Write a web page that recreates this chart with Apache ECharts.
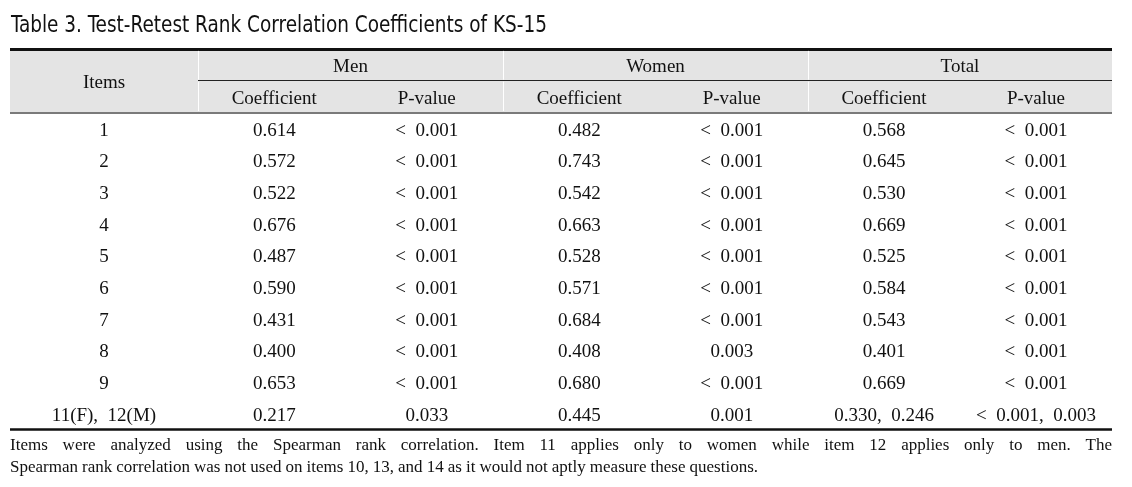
<!DOCTYPE html>
<html>
<head>
<meta charset="utf-8">
<script src="https://cdn.jsdelivr.net/npm/echarts@6/dist/echarts.min.js"></script>
<style>
html,body{margin:0;padding:0;background:#fff;}
#chart{width:1132px;height:487px;}
</style>
</head>
<body>
<div id="chart"></div>
<script>
// ---------- data ----------
const titleText = 'Table 3. Test-Retest Rank Correlation Coefficients of KS-15';
const groupHeaders = ['Men', 'Women', 'Total'];
const subHeaders = ['Coefficient', 'P-value', 'Coefficient', 'P-value', 'Coefficient', 'P-value'];
const itemHeader = 'Items';
const items = ['1', '2', '3', '4', '5', '6', '7', '8', '9', '11(F), 12(M)'];
const menCoef = [0.614, 0.572, 0.522, 0.676, 0.487, 0.590, 0.431, 0.400, 0.653, 0.217];
const menP = ['< 0.001', '< 0.001', '< 0.001', '< 0.001', '< 0.001', '< 0.001', '< 0.001', '< 0.001', '< 0.001', '0.033'];
const womenCoef = [0.482, 0.743, 0.542, 0.663, 0.528, 0.571, 0.684, 0.408, 0.680, 0.445];
const womenP = ['< 0.001', '< 0.001', '< 0.001', '< 0.001', '< 0.001', '< 0.001', '< 0.001', '0.003', '< 0.001', '0.001'];
const totalCoef = [0.568, 0.645, 0.530, 0.669, 0.525, 0.584, 0.543, 0.401, 0.669, [0.330, 0.246]];
const totalP = ['< 0.001', '< 0.001', '< 0.001', '< 0.001', '< 0.001', '< 0.001', '< 0.001', '< 0.001', '< 0.001', '< 0.001, 0.003'];
const footnoteLines = [
  'Items were analyzed using the Spearman rank correlation. Item 11 applies only to women while item 12 applies only to men. The',
  'Spearman rank correlation was not used on items 10, 13, and 14 as it would not aptly measure these questions.'
];

// ---------- layout ----------
const colWidths = [188, 152.5, 152.5, 152.5, 152.5, 152, 152];
const W = colWidths.reduce((a, b) => a + b, 0);
const colStart = [];
colWidths.reduce((acc, w, i) => { colStart[i] = acc; return acc + w; }, 0);
const colCenter = colWidths.map((w, i) => colStart[i] + w / 2);
const headerRows = 2;
const totalRows = headerRows + items.length;
const SERIF = '"Liberation Serif", "DejaVu Serif", serif';
const TXT = '#111111';
const footLineEnds = [1112, 758];

const fmtCoef = v => Array.isArray(v) ? v.map(x => x.toFixed(3)).join(',  ') : v.toFixed(3);
const fmtP = v => v.replace(/< /g, '<  ').replace(/, /g, ',  ');
const fmtItem = v => v.replace(/, /g, ',  ');

const labelBase = {
  show: true, position: 'inside', formatter: p => p.value[2],
  color: TXT, fontFamily: SERIF, fontSize: 19, opacity: 1,
  textBorderWidth: 0, textShadowBlur: 0
};

function cellSeries(name, col, values, fmt) {
  return {
    name, type: 'scatter', symbolSize: 0, silent: true, z: 5,
    itemStyle: { opacity: 1 },
    emphasis: { disabled: true },
    data: values.map((v, i) => [colCenter[col], headerRows + i + 0.5, fmt ? fmt(v) : v]),
    label: Object.assign({}, labelBase, { offset: [0, 2.5] })
  };
}

const headerData = [[colCenter[0], 1, itemHeader]];
groupHeaders.forEach((g, i) => {
  headerData.push([colStart[1 + 2 * i] + (colWidths[1 + 2 * i] + colWidths[2 + 2 * i]) / 2, 0.5, g]);
});
subHeaders.forEach((s, i) => headerData.push([colCenter[i + 1], 1.5, s]));

const sepX = [colStart[1], colStart[3], colStart[5]];
const L = (x1, y1, x2, y2, color, width) =>
  [{ coord: [x1, y1], lineStyle: { color, width, type: 'solid' } }, { coord: [x2, y2] }];
const markLines = [
  L(0, 0, W, 0, '#111', 3),
  L(colStart[1], 1, W, 1, '#222', 1.2),
  L(0, headerRows, W, headerRows, '#7a7a7a', 2),
  L(0, totalRows, W, totalRows, '#111', 2.5)
];
sepX.forEach(x => markLines.push(L(x, 0.06, x, 0.97, '#ffffff', 1)));
sepX.forEach(x => markLines.push(L(x, 1.03, x, headerRows - 0.04, '#ffffff', 1)));

const series = [
  {
    name: 'header', type: 'scatter', symbolSize: 0, silent: true, z: 5,
    itemStyle: { opacity: 1 },
    emphasis: { disabled: true },
    data: headerData,
    label: Object.assign({}, labelBase, { offset: [0, 2.5] }),
    markArea: {
      silent: true,
      itemStyle: { color: '#e4e4e4', opacity: 1 },
      data: [[{ coord: [0, 0] }, { coord: [W, headerRows] }]]
    },
    markLine: {
      silent: true, symbol: ['none', 'none'], label: { show: false },
      lineStyle: { type: 'solid', opacity: 1 },
      animation: false,
      data: markLines
    }
  },
  cellSeries('items', 0, items, fmtItem),
  cellSeries('menCoef', 1, menCoef, fmtCoef),
  cellSeries('menP', 2, menP, fmtP),
  cellSeries('womenCoef', 3, womenCoef, fmtCoef),
  cellSeries('womenP', 4, womenP, fmtP),
  cellSeries('totalCoef', 5, totalCoef, fmtCoef),
  cellSeries('totalP', 6, totalP, fmtP)
];

const chart = echarts.init(document.getElementById('chart'), null, { renderer: 'canvas' });

// justified footnote words & fitted title
const ctx = document.createElement('canvas').getContext('2d');
const footFont = 17;
ctx.font = footFont + 'px ' + SERIF;
const graphics = [];
footnoteLines.forEach((line, li) => {
  const words = line.split(' ');
  const widths = words.map(w => ctx.measureText(w).width);
  const sum = widths.reduce((a, b) => a + b, 0);
  const gap = (footLineEnds[li] - 10 - sum) / (words.length - 1);
  let x = 10;
  words.forEach((w, i) => {
    graphics.push({
      type: 'text', left: x, top: 437 + li * 22, silent: true,
      style: { text: w, fill: TXT, font: footFont + 'px ' + SERIF }
    });
    x += widths[i] + gap;
  });
});
const titleFont = '23px "Liberation Sans Narrow", "DejaVu Sans Condensed", "Noto Sans", sans-serif';
ctx.font = titleFont;
const tW = ctx.measureText(titleText).width;
graphics.push({
  type: 'text', x: 11, y: 15, scaleX: 536 / tW, silent: true,
  style: { text: titleText, fill: '#111', font: titleFont }
});

chart.setOption({
  animation: false,
  backgroundColor: '#ffffff',
  grid: { left: 10, right: 20, top: 49, bottom: 58, containLabel: false },
  xAxis: { type: 'value', min: 0, max: W, show: false },
  yAxis: { type: 'value', min: 0, max: totalRows, inverse: true, show: false },
  series,
  graphic: graphics
});
</script>
</body>
</html>
